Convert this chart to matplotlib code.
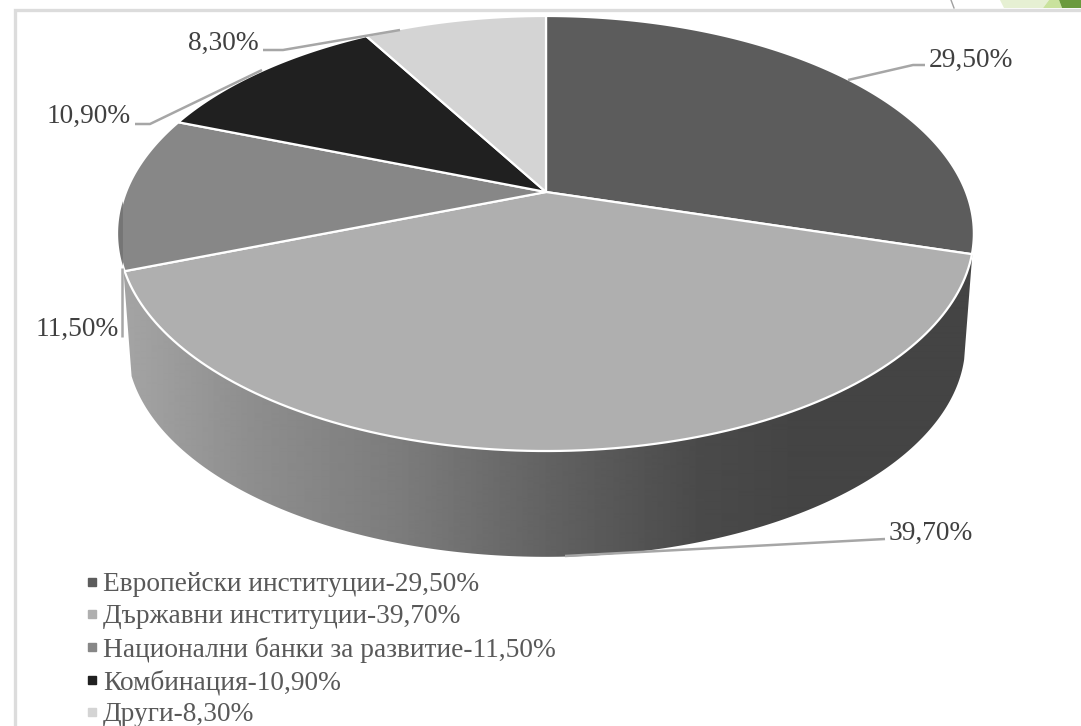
import numpy as np
import matplotlib.pyplot as plt
from matplotlib.lines import Line2D
from matplotlib.patches import Polygon

plt.rcParams['font.family'] = ['Liberation Serif', 'DejaVu Serif']

categories = ['Европейски институции', 'Държавни институции',
              'Национални банки за развитие', 'Комбинация', 'Други']
values = [29.5, 39.7, 11.5, 10.9, 8.3]
value_labels = ['29,50%', '39,70%', '11,50%', '10,90%', '8,30%']
colors = ['#5c5c5c', '#afafaf', '#878787', '#202020', '#d4d4d4']

# perspective of the tilted disc, in pixels
cx, cy = 546, 192
rx, ry = 420, 209.6
k = 0.1908
depth = 111
shrink = 0.98


def rim(theta, s=1.0, d=0.0):
    x = np.sin(theta)
    y = np.cos(theta)
    w = 1 + k * y
    return cx + s * rx * x / w, cy + d - s * ry * y / w


fig = plt.figure(figsize=(10.81, 7.26), dpi=100)
ax = fig.add_axes([0, 0, 1, 1])
ax.set_xlim(0, 1081)
ax.set_ylim(726, 0)
ax.axis('off')

# slide decoration above the frame
ax.plot([951, 954], [0, 8], color='#a0a0a0', lw=1)
ax.add_patch(Polygon([(1000, 0), (1004, 8), (1043, 8), (1049, 0)], fc='#e6f0d3', ec='none'))
ax.add_patch(Polygon([(1049, 0), (1043, 8), (1062, 8), (1059, 0)], fc='#c9e29d', ec='none'))
ax.add_patch(Polygon([(1059, 0), (1062, 8), (1081, 8), (1081, 0)], fc='#6a9a3d', ec='none'))
ax.plot([15, 15, 1081], [726, 9.5, 9.5], color='#dcdcdc', lw=2.4, solid_joinstyle='miter')

edges = 2 * np.pi * np.cumsum([0] + values) / sum(values)

# side of the disc, lighter to the left
t_side = np.linspace(edges[1] - 0.02, edges[2] + 0.02, 200)
tx, ty = rim(t_side)
bx, by = rim(t_side, shrink, depth)
side = Polygon(np.r_[np.c_[tx, ty], np.c_[bx, by][::-1]], fc='none', ec='none')
ax.add_patch(side)
stops_x = [120, 250, 400, 560, 700, 800, 980]
stops_g = [165, 142, 124, 96, 74, 68, 68]
grad = np.interp(np.arange(120, 980), stops_x, stops_g)[None, :]
im = ax.imshow(grad, cmap='gray', vmin=0, vmax=255, extent=(120, 980, 600, 200),
               aspect='auto', interpolation='bilinear', zorder=1)
im.set_clip_path(side)
ax.set_xlim(0, 1081)
ax.set_ylim(726, 0)

# top faces
for i in range(len(values)):
    t = np.linspace(edges[i], edges[i + 1], 120)
    x, y = rim(t)
    ax.add_patch(Polygon(np.r_[[[cx, cy]], np.c_[x, y]], fc=colors[i], ec='white', lw=1.6,
                         joinstyle='round', zorder=2))

# thin darker sliver on the left of the third slice
t_s = np.linspace(edges[2] + 0.02, edges[3], 200)
sx, sy = rim(t_s)
keep = sx < 123
ax.fill(sx[keep], sy[keep], color='#757575', zorder=2.5, lw=0)

# leader lines
leader = '#a6a6a6'
leaders = [
    ([848, 913, 925], [80, 65, 65]),
    ([565, 885], [556, 539]),
    ([122, 122], [337, 268]),
    ([135, 150, 262], [124, 124, 70]),
    ([263, 283, 400], [50, 50, 30]),
]
for lx, ly in leaders:
    ax.plot(lx, ly, color=leader, lw=1.8, zorder=3, solid_capstyle='butt')

label_pos = [(929, 60), (889, 533), (36, 329), (47, 116), (188, 43)]
for lab, (px, py) in zip(value_labels, label_pos):
    ax.text(px, py, lab, fontsize=19.7, color='#404040', ha='left', va='center', zorder=4)

handles = [Line2D([], [], ls='none', marker='s', ms=5.5, color=c) for c in colors]
labels = [f'{c}-{v}' for c, v in zip(categories, value_labels)]
ax.legend(handles, labels, loc='upper left', bbox_to_anchor=(84 / 1081, 1 - 572 / 726),
          frameon=False, fontsize=19.7, labelcolor='#595959', handlelength=0.6,
          handletextpad=0.1, labelspacing=0.26, borderpad=0, borderaxespad=0)

plt.savefig('out.png', dpi=100)
